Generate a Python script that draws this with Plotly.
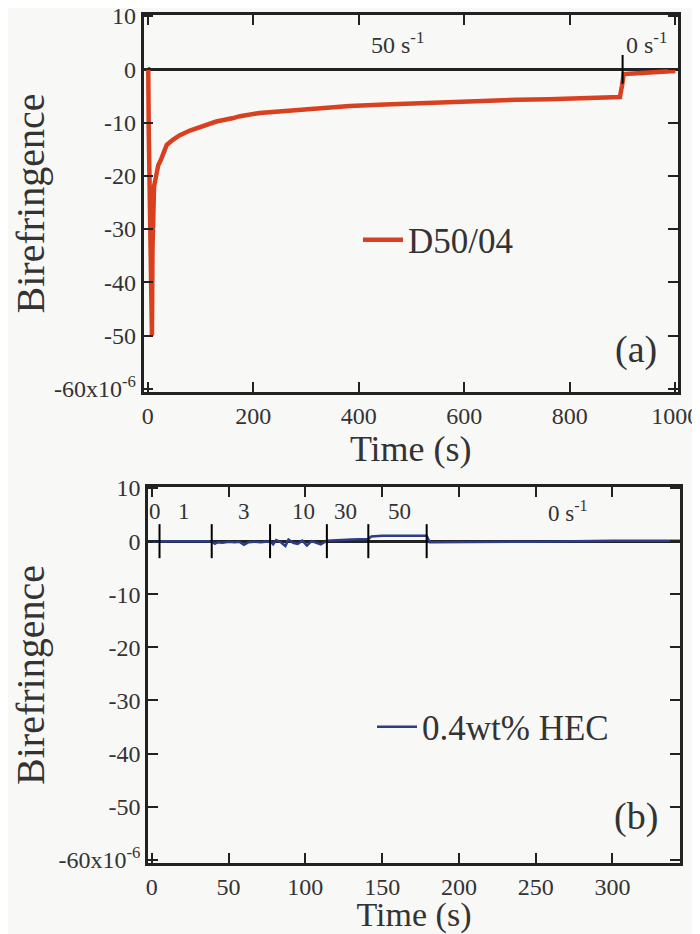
import plotly.graph_objects as go

# ---------------- Panel (a): D50/04 ----------------
time_a = [0, 1, 2, 4, 6, 7, 8, 9, 10, 11, 12, 14, 17, 20, 25, 30, 36, 47, 60, 80, 100,
          112, 130, 160, 175, 212, 250, 288, 330, 383, 450, 500, 573, 640, 700, 760,
          820, 860, 895, 899, 902, 920, 950, 980, 1000]
biref_a = [0, 0, -12, -30, -44, -38, -50, -34, -27, -30, -22, -21, -19, -18, -17, -15.5,
           -14.2, -13.3, -12.4, -11.5, -10.9, -10.4, -9.8, -9.2, -8.8, -8.2, -7.9, -7.6,
           -7.2, -6.9, -6.6, -6.4, -6.2, -5.9, -5.7, -5.6, -5.4, -5.3, -5.2, -3.0, -0.9,
           -0.8, -0.6, -0.4, -0.3]
step_times_a = [900]
rate_label_times_a = [474, 945]
rate_labels_a = ["50 s<sup>-1</sup>", "0 s<sup>-1</sup>"]

# ---------------- Panel (b): 0.4wt% HEC ----------------
time_b = [0, 5, 10, 20, 30, 39, 41, 43, 46, 50, 54, 57, 60, 63, 67, 71, 77, 79, 81, 84,
          87, 89, 92, 95, 98, 101, 104, 107, 110, 114, 120, 130, 141, 143, 150, 160,
          170, 179, 181, 200, 250, 300, 344]
biref_b = [0, 0, 0, 0, 0, 0, -0.5, -0.2, -0.3, -0.1, -0.2, -0.1, -0.7, -0.2, -0.1, -0.2,
           0, -0.6, 0.2, -0.2, -0.9, 0.3, -0.3, -0.5, 0.1, -0.8, 0, -0.3, -0.6, 0.1, 0.2,
           0.3, 0.4, 0.9, 1.0, 1.0, 1.1, 1.0, -0.2, -0.2, -0.1, 0.1, 0.1]
step_times_b = [5, 39, 77, 114, 141, 179]
rate_label_times_b = [2, 21, 60, 98.5, 126, 161, 271]
rate_labels_b = ["0", "1", "3", "10", "30", "50", "0 s<sup>-1</sup>"]

# ---------------- Axes ----------------
y_tickvals = [-60, -50, -40, -30, -20, -10, 0, 10]
y_ticktext = ["-60x10<sup>-6</sup>", "-50", "-40", "-30", "-20", "-10", "0", "10"]
x_tickvals_a = [0, 200, 400, 600, 800, 1000]
x_tickvals_b = [0, 50, 100, 150, 200, 250, 300]

RED = "#d8401f"
BLUE = "#2c3c86"
FONT = "Liberation Serif"
BG = "#f8f8f6"

# page body adds an 8px margin; figure is sized/positioned to compensate
W, H, OFF = 692, 926, 8


def px(x):
    return (x - OFF) / W


def py(y):
    return 1 - (y - OFF) / H


def step_marks(times, half=2.7):
    xs, ys = [], []
    for t in times:
        xs += [t, t, None]
        ys += [-half, half, None]
    return xs, ys


fig = go.Figure()

fig.add_trace(go.Scatter(x=time_a, y=biref_a, mode="lines", name="D50/04",
                         line=dict(color=RED, width=4.5), xaxis="x", yaxis="y",
                         legend="legend"))
sx, sy = step_marks(step_times_a)
fig.add_trace(go.Scatter(x=sx, y=sy, mode="lines", showlegend=False,
                         line=dict(color="black", width=2), xaxis="x", yaxis="y",
                         hoverinfo="skip"))

fig.add_trace(go.Scatter(x=time_b, y=biref_b, mode="lines", name="0.4wt% HEC",
                         line=dict(color=BLUE, width=2.5), xaxis="x2", yaxis="y2",
                         legend="legend2"))
sx, sy = step_marks(step_times_b, half=3.2)
fig.add_trace(go.Scatter(x=sx, y=sy, mode="lines", showlegend=False,
                         line=dict(color="black", width=2), xaxis="x2", yaxis="y2",
                         hoverinfo="skip"))

common_x = dict(showline=True, linecolor="#222", linewidth=2.5, mirror="ticks",
                ticks="inside", ticklen=10, tickwidth=2, tickcolor="#222",
                showgrid=False, zeroline=False, ticklabeloverflow="allow",
                tickfont=dict(family=FONT, size=24, color="#333"),
                title_font=dict(family=FONT, size=36, color="#333"),
                automargin=False)
common_y = dict(showline=True, linecolor="#222", linewidth=2.5, mirror="ticks",
                ticks="inside", ticklen=10, tickwidth=2, tickcolor="#222",
                showgrid=False, zeroline=True, zerolinecolor="#222", zerolinewidth=2.5,
                tickvals=y_tickvals, ticktext=y_ticktext, ticklabeloverflow="allow",
                tickfont=dict(family=FONT, size=24, color="#333"),
                title_font=dict(family=FONT, size=40, color="#333"),
                automargin=False)

fig.update_layout(
    width=W, height=H,
    margin=dict(l=0, r=0, t=0, b=0),
    paper_bgcolor=BG, plot_bgcolor=BG,
    xaxis=dict(common_x, domain=[px(143.5), px(678)], range=[-8, 1005],
               tickvals=x_tickvals_a, anchor="y",
               title=dict(text="Time (s)", standoff=0)),
    yaxis=dict(common_y, domain=[py(392), py(15)], range=[-60.6, 10.2], anchor="x",
               title=dict(text="Birefringence", standoff=2)),
    xaxis2=dict(common_x, domain=[px(148), px(680)], range=[-2.5, 344],
                tickvals=x_tickvals_b, anchor="y2",
                title=dict(text="Time (s)", standoff=5,
                           font=dict(family=FONT, size=34, color="#333"))),
    yaxis2=dict(common_y, domain=[py(863), py(487)], range=[-60.6, 10.2], anchor="x2",
                title=dict(text="Birefringence", standoff=2)),
    legend=dict(x=px(358), y=py(240), xanchor="left", yanchor="middle",
                bgcolor="rgba(0,0,0,0)", itemwidth=40,
                font=dict(family=FONT, size=35, color="#333")),
    legend2=dict(x=px(372), y=py(727), xanchor="left", yanchor="middle",
                 bgcolor="rgba(0,0,0,0)", itemwidth=40,
                 font=dict(family=FONT, size=35, color="#333")),
    showlegend=True,
)

for t, txt in zip(rate_label_times_a, rate_labels_a):
    fig.add_annotation(x=t, y=5.0, xref="x", yref="y", text=txt, showarrow=False,
                       font=dict(family=FONT, size=24, color="#333"))
for t, txt in zip(rate_label_times_b, rate_labels_b):
    fig.add_annotation(x=t, y=5.6, xref="x2", yref="y2", text=txt, showarrow=False,
                       font=dict(family=FONT, size=23, color="#333"))

fig.add_annotation(x=px(636), y=py(349), xref="paper", yref="paper", text="(a)",
                   xanchor="center", yanchor="middle",
                   showarrow=False, font=dict(family=FONT, size=38, color="#333"))
fig.add_annotation(x=px(636), y=py(816), xref="paper", yref="paper", text="(b)",
                   xanchor="center", yanchor="middle",
                   showarrow=False, font=dict(family=FONT, size=38, color="#333"))

fig.write_html("out.html")
